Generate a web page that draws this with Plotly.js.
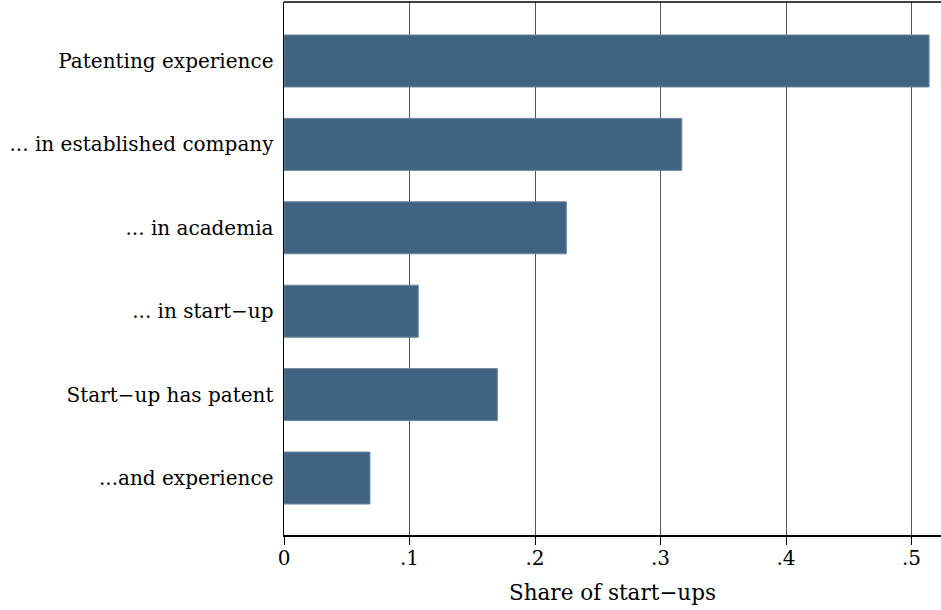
<!DOCTYPE html>
<html>
<head>
<meta charset="utf-8">
<script src="https://cdn.plot.ly/plotly-3.0.1.min.js"></script>
<style>html,body{margin:0;padding:0;background:#fff;}#chart{width:941px;height:610px;}</style>
</head>
<body>
<div id="chart"></div>
<script>
const categories = ["Patenting experience", "... in established company", "... in academia", "... in start\u2212up", "Start\u2212up has patent", "...and experience"];
const shares = [0.514, 0.317, 0.225, 0.107, 0.170, 0.0685];
const tickValues = [0, 0.1, 0.2, 0.3, 0.4, 0.5];
const tickLabels = ["0", ".1", ".2", ".3", ".4", ".5"];

const font = "DejaVu Serif, serif";
const trace = {
  type: "bar",
  orientation: "h",
  x: shares,
  y: categories,
  marker: {color: "#3f6380", line: {color: "#6f8ca3", width: 1}},
  hoverinfo: "x+y"
};
const layout = {
  width: 941, height: 610,
  margin: {l: 284, r: 0, t: 2, b: 75},
  paper_bgcolor: "#fff", plot_bgcolor: "#fff",
  bargap: 0.376,
  showlegend: false,
  font: {family: font, color: "#000", size: 20},
  xaxis: {
    range: [0, 0.5235],
    tickvals: tickValues, ticktext: tickLabels,
    showgrid: true, gridcolor: "#555", gridwidth: 1,
    zeroline: false,
    showline: true, linecolor: "#000", linewidth: 1.5,
    ticks: "outside", ticklen: 8, tickcolor: "#000", tickwidth: 1,
    ticklabelstandoff: -4,
    tickfont: {family: font, size: 20, color: "#000"},
    title: {text: "Share of start\u2212ups", font: {family: font, size: 21.5, color: "#000"}, standoff: 16}
  },
  yaxis: {
    type: "category",
    categoryorder: "array", categoryarray: categories,
    range: [5.683, -0.707],
    showgrid: false, zeroline: false,
    showline: true, linecolor: "#000", linewidth: 1.5,
    ticks: "", ticklabelstandoff: 5,
    tickfont: {family: font, size: 20, color: "#000"}
  },
  shapes: [{type: "line", xref: "paper", yref: "paper", x0: 0, x1: 1, y0: 1, y1: 1, line: {color: "#000", width: 1.5}}]
};
Plotly.newPlot("chart", [trace], layout, {displayModeBar: false, staticPlot: true});
</script>
</body>
</html>
